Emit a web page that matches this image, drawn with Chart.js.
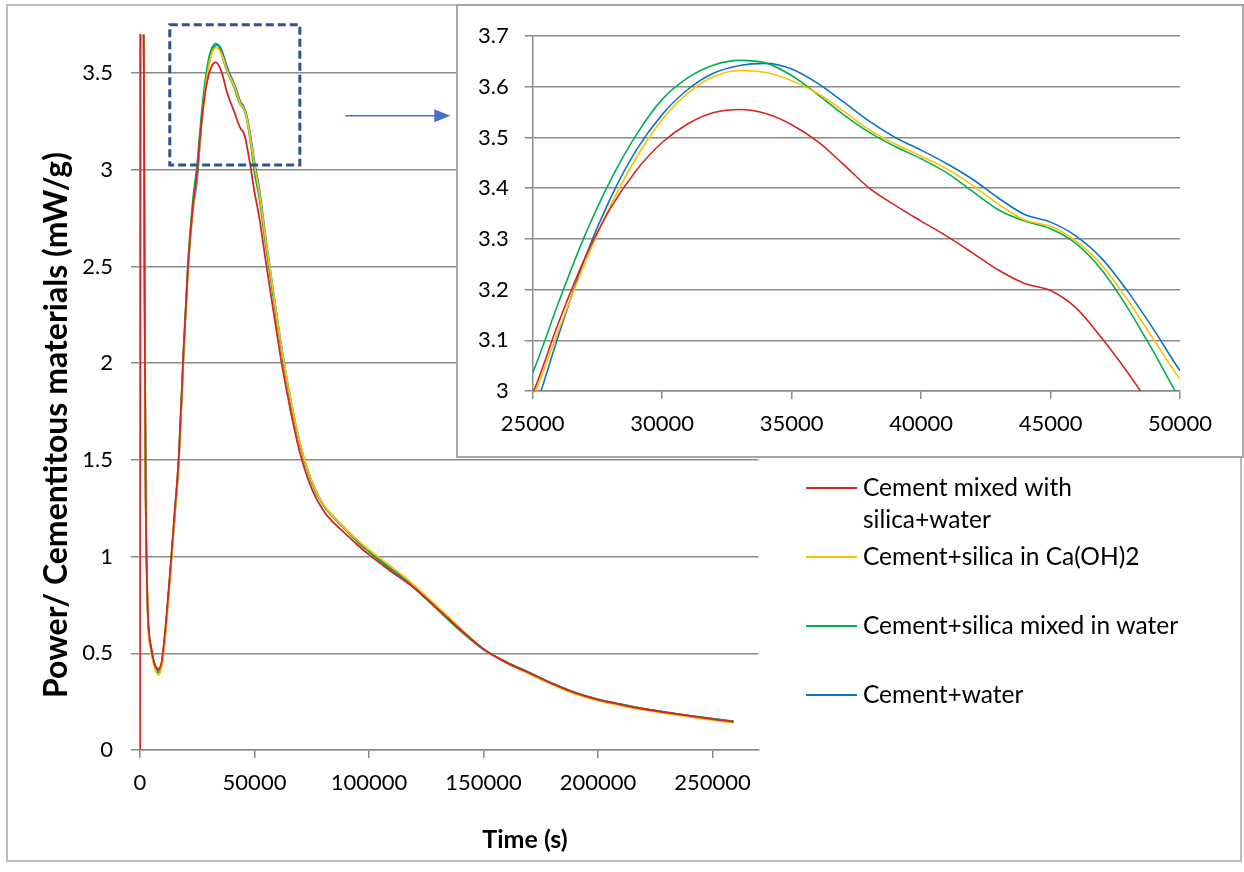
<!DOCTYPE html>
<html>
<head>
<meta charset="utf-8">
<script src="https://cdn.jsdelivr.net/npm/chart.js@4.4.1/dist/chart.umd.min.js"></script>
<style>
  html, body { margin: 0; padding: 0; background: #ffffff; }
  #wrap { position: relative; width: 1244px; height: 872px; overflow: hidden; }
  #frame { position: absolute; left: 6px; top: 4px; width: 1236px; height: 858px; border: 2px solid #bdbdbd; box-sizing: border-box; }
  #mainCanvas { position: absolute; left: 0; top: 0; }
  #zoomBox { position: absolute; left: 456px; top: 4px; width: 788px; height: 454px; border: 2px solid #a6a6a6; box-sizing: border-box; background: #ffffff; }
  #zoomCanvas { position: absolute; left: 0; top: 0; }
</style>
</head>
<body>
<div id="wrap">
  <div id="frame"></div>
  <canvas id="mainCanvas" width="1244" height="872"></canvas>
  <div id="zoomBox"><canvas id="zoomCanvas" width="784" height="450"></canvas></div>
</div>
<script>
// Hydration heat flow, sampled time in seconds
const timeS = [0, 300, 1000, 1700, 2000, 2500, 3000, 3500, 5000, 6500, 8000, 9500, 11000,
  13000, 15000, 17000, 19000, 21000, 23000,
  25000, 26000, 27000, 28000, 29000, 30000, 31000, 32000, 33000, 34000, 35000, 36000, 37000,
  38000, 39000, 40000, 41000, 42000, 43000, 44000, 45000, 46000, 47000, 48000, 49000, 50000,
  52000, 55000, 58000, 62000, 66000, 70000,
  75000, 80000, 85000, 90000, 95000, 100000,
  105000, 110000, 115000, 120000,
  130000, 140000, 150000, 160000, 170000, 180000, 190000, 200000, 210000, 220000, 230000, 240000, 250000,
  259200];

// Power per gram of cementitious material (mW/g)
const cementMixedSilicaWater = [0, 6.0, 5.0, 3.5, 2.4, 1.3, 0.9, 0.69, 0.52, 0.44, 0.42, 0.46, 0.62,
  0.90, 1.21, 1.53, 2.06, 2.51, 2.80,
  2.995, 3.135, 3.26, 3.36, 3.435, 3.49, 3.527, 3.549, 3.555, 3.547, 3.525, 3.492, 3.447,
  3.40, 3.366, 3.335, 3.305, 3.272, 3.238, 3.212, 3.198, 3.163, 3.103, 3.035, 2.96, 2.885,
  2.76, 2.52, 2.29, 1.99, 1.74, 1.53,
  1.35, 1.24, 1.17, 1.115, 1.06, 1.01,
  0.965, 0.92, 0.88, 0.835,
  0.73, 0.622, 0.522, 0.452, 0.398, 0.343, 0.295, 0.26, 0.235, 0.212, 0.193, 0.176, 0.16,
  0.146];

const cementSilicaCaOH2 = [0, 6.0, 5.0, 3.5, 2.4, 1.3, 0.9, 0.66, 0.50, 0.42, 0.388, 0.43, 0.58,
  0.87, 1.18, 1.50, 2.03, 2.49, 2.78,
  2.985, 3.12, 3.25, 3.365, 3.46, 3.535, 3.588, 3.62, 3.632, 3.628, 3.612, 3.587, 3.552,
  3.515, 3.487, 3.463, 3.438, 3.405, 3.368, 3.337, 3.325, 3.295, 3.247, 3.178, 3.10, 3.023,
  2.89, 2.63, 2.385, 2.065, 1.80, 1.58,
  1.39, 1.27, 1.20, 1.14, 1.085, 1.035,
  0.99, 0.945, 0.90, 0.85,
  0.74, 0.628, 0.523, 0.45, 0.393, 0.338, 0.29, 0.255, 0.23, 0.207, 0.188, 0.171, 0.155,
  0.141];

const cementSilicaMixedWater = [0, 6.0, 5.0, 3.5, 2.4, 1.3, 0.9, 0.67, 0.51, 0.43, 0.40, 0.44, 0.60,
  0.89, 1.20, 1.53, 2.07, 2.53, 2.83,
  3.036, 3.175, 3.305, 3.415, 3.505, 3.575, 3.618, 3.643, 3.652, 3.647, 3.622, 3.585, 3.545,
  3.51, 3.482, 3.458, 3.43, 3.393, 3.357, 3.335, 3.32, 3.29, 3.237, 3.162, 3.075, 2.985,
  2.86, 2.60, 2.36, 2.05, 1.785, 1.57,
  1.38, 1.265, 1.195, 1.135, 1.075, 1.025,
  0.975, 0.93, 0.885, 0.835,
  0.725, 0.615, 0.52, 0.455, 0.40, 0.345, 0.297, 0.262, 0.236, 0.213, 0.194, 0.177, 0.161,
  0.147];

const cementWater = [0, 6.0, 5.0, 3.5, 2.4, 1.3, 0.9, 0.68, 0.52, 0.44, 0.412, 0.45, 0.60,
  0.88, 1.18, 1.50, 2.03, 2.49, 2.78,
  2.955, 3.11, 3.26, 3.38, 3.475, 3.545, 3.595, 3.627, 3.642, 3.646, 3.635, 3.607, 3.57,
  3.532, 3.50, 3.475, 3.448, 3.417, 3.38, 3.348, 3.333, 3.305, 3.26, 3.195, 3.12, 3.04,
  2.91, 2.64, 2.39, 2.07, 1.80, 1.58,
  1.39, 1.27, 1.20, 1.14, 1.08, 1.03,
  0.98, 0.935, 0.89, 0.84,
  0.73, 0.62, 0.52, 0.455, 0.40, 0.345, 0.297, 0.262, 0.237, 0.214, 0.195, 0.178, 0.162,
  0.148];

const seriesNames = ['Cement mixed with silica+water', 'Cement+silica in Ca(OH)2',
  'Cement+silica mixed in water', 'Cement+water'];
const seriesValues = [cementMixedSilicaWater, cementSilicaCaOH2, cementSilicaMixedWater, cementWater];
const seriesColors = ['#D42424', '#FFC000', '#00B050', '#0F74C4'];

// Axis tick values
const mainTimeTicks = [0, 50000, 100000, 150000, 200000, 250000];
const mainPowerTicks = [0, 0.5, 1, 1.5, 2, 2.5, 3, 3.5];
const zoomTimeTicks = [25000, 30000, 35000, 40000, 45000, 50000];
const zoomPowerTicks = [3, 3.1, 3.2, 3.3, 3.4, 3.5, 3.6, 3.7];

const FONT = 'Lato, "Open Sans", sans-serif';
const GRID = '#8a8a8a';

function buildDatasets(width) {
  return seriesNames.map((name, k) => ({
    label: name,
    data: timeS.map((t, i) => ({ x: t, y: seriesValues[k][i] })),
    borderColor: seriesColors[k],
    backgroundColor: seriesColors[k],
    borderWidth: width,
    pointRadius: 0,
    fill: false,
    cubicInterpolationMode: 'monotone'
  }));
}

const numLabel = v => String(+Number(v).toFixed(3));
const fixedTicks = list => scale => { scale.ticks = list.map(v => ({ value: v })); };

// Dashed selection box and arrow (in data units of the main axes)
const zoomRegion = { x0: 13000, x1: 69800, y0: 3.025, y1: 3.75 };
const arrowSpan = { x0: 89700, x1: 135500, y: 3.28 };

const mainDecor = {
  id: 'mainDecor',
  afterDraw(chart) {
    const ctx = chart.ctx;
    const xs = chart.scales.x, ys = chart.scales.y;
    ctx.save();

    // dashed box around the peak
    ctx.strokeStyle = '#2F528F';
    ctx.lineWidth = 3;
    ctx.setLineDash([8, 4]);
    const bx0 = xs.getPixelForValue(zoomRegion.x0), bx1 = xs.getPixelForValue(zoomRegion.x1);
    const by0 = ys.getPixelForValue(zoomRegion.y1), by1 = ys.getPixelForValue(zoomRegion.y0);
    ctx.strokeRect(bx0, by0, bx1 - bx0, by1 - by0);
    ctx.setLineDash([]);

    // arrow pointing to the enlarged view
    const ax0 = xs.getPixelForValue(arrowSpan.x0), ax1 = xs.getPixelForValue(arrowSpan.x1);
    const ay = ys.getPixelForValue(arrowSpan.y);
    ctx.strokeStyle = '#4472C4';
    ctx.fillStyle = '#4472C4';
    ctx.lineWidth = 1.5;
    ctx.beginPath();
    ctx.moveTo(ax0, ay);
    ctx.lineTo(ax1 - 12, ay);
    ctx.stroke();
    ctx.beginPath();
    ctx.moveTo(ax1, ay);
    ctx.lineTo(ax1 - 16, ay - 6.5);
    ctx.lineTo(ax1 - 16, ay + 6.5);
    ctx.closePath();
    ctx.fill();

    // axis titles
    ctx.fillStyle = '#000';
    ctx.textAlign = 'center';
    ctx.textBaseline = 'middle';
    ctx.font = 'bold 25px ' + FONT;
    ctx.fillText('Time (s)', 525, 840);
    ctx.save();
    ctx.translate(57, 425);
    ctx.rotate(-Math.PI / 2);
    ctx.font = 'bold 32px ' + FONT;
    ctx.fillText('Power/ Cementitous materials (mW/g)', 0, 0);
    ctx.restore();

    // legend
    ctx.font = '24.5px ' + FONT;
    ctx.textAlign = 'left';
    const maxW = ctx.measureText('Cement+silica mixed in water').width + 6;
    const itemY = [488, 557, 626, 695];
    chart.data.datasets.forEach((ds, k) => {
      const y = itemY[k];
      ctx.strokeStyle = ds.borderColor;
      ctx.lineWidth = 2;
      ctx.beginPath();
      ctx.moveTo(806, y);
      ctx.lineTo(857, y);
      ctx.stroke();
      ctx.fillStyle = '#000';
      const words = ds.label.split(' ');
      const lines = [];
      let cur = '';
      words.forEach(w => {
        const test = cur ? cur + ' ' + w : w;
        if (ctx.measureText(test).width > maxW && cur) { lines.push(cur); cur = w; }
        else cur = test;
      });
      lines.push(cur);
      lines.forEach((ln, j) => ctx.fillText(ln, 863, y + j * 32));
    });
    ctx.restore();
  }
};

function axisBase(extra) {
  return Object.assign({
    type: 'linear',
    border: { display: true, color: GRID, width: 1.5 }
  }, extra);
}

new Chart(document.getElementById('mainCanvas'), {
  type: 'line',
  data: { datasets: buildDatasets(1.8) },
  options: {
    responsive: false,
    animation: false,
    devicePixelRatio: 1,
    layout: { padding: { left: 0, right: 485.7, top: 34.4, bottom: 0 } },
    plugins: { legend: { display: false }, tooltip: { enabled: false } },
    scales: {
      x: axisBase({
        min: 0, max: 270000,
        afterBuildTicks: fixedTicks(mainTimeTicks),
        ticks: { autoSkip: false, maxRotation: 0, callback: numLabel, color: '#000',
          font: { family: FONT, size: 22 }, padding: 12 },
        grid: { drawOnChartArea: false, drawTicks: true, tickLength: 8, color: GRID, lineWidth: 1.5 },
        afterFit: s => { s.height = 122; }
      }),
      y: axisBase({
        min: 0, max: 3.7,
        afterBuildTicks: fixedTicks(mainPowerTicks),
        ticks: { callback: numLabel, color: '#000', font: { family: FONT, size: 22 }, padding: 18 },
        grid: { color: GRID, lineWidth: 1.5, tickLength: 9 },
        afterFit: s => { s.width = 140; }
      })
    }
  },
  plugins: [mainDecor]
});

new Chart(document.getElementById('zoomCanvas'), {
  type: 'line',
  data: { datasets: buildDatasets(1.6) },
  options: {
    responsive: false,
    animation: false,
    devicePixelRatio: 1,
    layout: { padding: { left: 0, right: 62, top: 30, bottom: 0 } },
    plugins: { legend: { display: false }, tooltip: { enabled: false } },
    scales: {
      x: axisBase({
        min: 25000, max: 50000,
        afterBuildTicks: fixedTicks(zoomTimeTicks),
        ticks: { autoSkip: false, maxRotation: 0, callback: numLabel, color: '#000',
          font: { family: FONT, size: 22 }, padding: 12 },
        grid: { drawOnChartArea: false, drawTicks: true, tickLength: 8, color: GRID, lineWidth: 1.5 },
        afterFit: s => { s.height = 65; }
      }),
      y: axisBase({
        min: 3, max: 3.7,
        afterBuildTicks: fixedTicks(zoomPowerTicks),
        ticks: { callback: numLabel, color: '#000', font: { family: FONT, size: 22 }, padding: 16 },
        grid: { color: GRID, lineWidth: 1.5, tickLength: 8 },
        afterFit: s => { s.width = 74.7; }
      })
    }
  }
});
</script>
</body>
</html>
